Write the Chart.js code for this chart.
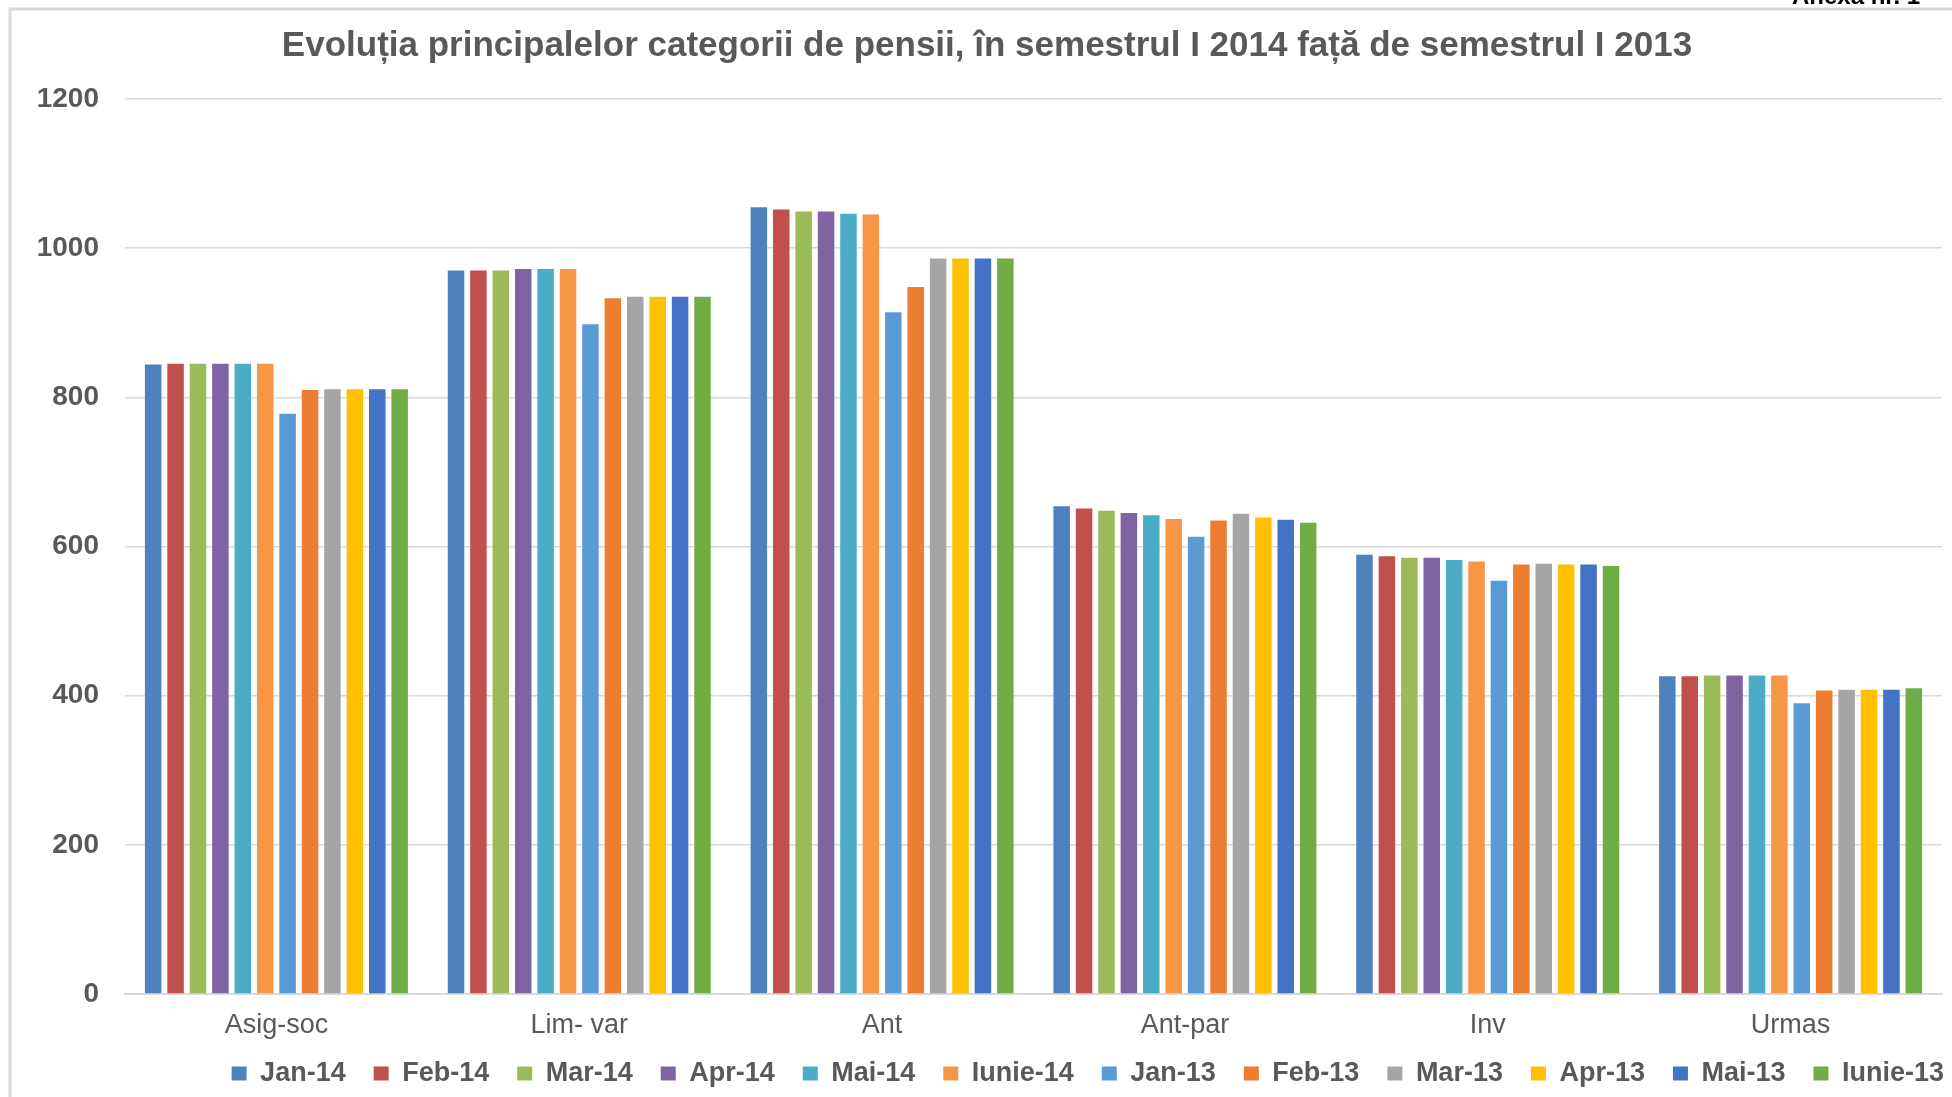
<!DOCTYPE html>
<html lang="ro">
<head>
<meta charset="utf-8">
<title>Evoluția principalelor categorii de pensii</title>
<script src="https://cdn.jsdelivr.net/npm/chart.js@4.4.1/dist/chart.umd.min.js"></script>
<style>
  html, body { margin: 0; padding: 0; background: #ffffff; }
  #wrap { position: relative; width: 1952px; height: 1097px; }
</style>
</head>
<body>
<div id="wrap"><canvas id="pensii"></canvas></div>
<script>
// categorii de pensii (axa X)
const categorii = ["Asig-soc", "Lim- var", "Ant", "Ant-par", "Inv", "Urmas"];

// valori medii, pe luni
const jan14 = [844, 970, 1055, 654, 589, 426];
const feb14 = [845, 970, 1052, 651, 587, 426];
const mar14 = [845, 970, 1049, 648, 585, 427];
const apr14 = [845, 972, 1049, 645, 585, 427];
const mai14 = [845, 972, 1046, 642, 582, 427];
const iun14 = [845, 972, 1045, 637, 580, 427];
const jan13 = [778, 898, 914, 613, 554, 390];
const feb13 = [810, 933, 948, 635, 576, 407];
const mar13 = [811, 935, 986, 644, 577, 408];
const apr13 = [811, 935, 986, 639, 576, 408];
const mai13 = [811, 935, 986, 636, 576, 408];
const iun13 = [811, 935, 986, 632, 574, 410];

const luni = ["Jan-14", "Feb-14", "Mar-14", "Apr-14", "Mai-14", "Iunie-14",
              "Jan-13", "Feb-13", "Mar-13", "Apr-13", "Mai-13", "Iunie-13"];
const serii = [jan14, feb14, mar14, apr14, mai14, iun14,
               jan13, feb13, mar13, apr13, mai13, iun13];
const culori = ["#4F81BD", "#C0504D", "#9BBB59", "#8064A2", "#4BACC6", "#F79646",
                "#5B9BD5", "#ED7D31", "#A5A5A5", "#FFC000", "#4472C4", "#70AD47"];

const yTicks = [0, 200, 400, 600, 800, 1000, 1200];

const GRI  = "#595959";
const FONT = "'Liberation Sans', Arial, sans-serif";

// rama gri din jurul graficului + textul taiat din colt
const rama = {
  id: "rama",
  beforeDraw(chart) {
    const ctx = chart.ctx;
    ctx.save();
    ctx.fillStyle = "#ffffff";
    ctx.fillRect(0, 0, chart.width, chart.height);
    ctx.strokeStyle = "#d9d9d9";
    ctx.lineWidth = 3;
    ctx.beginPath();
    ctx.moveTo(10, chart.height);
    ctx.lineTo(10, 9);
    ctx.lineTo(chart.width, 9);
    ctx.stroke();
    ctx.fillStyle = "#000000";
    ctx.font = "bold 24px " + FONT;
    ctx.textBaseline = "alphabetic";
    ctx.fillText("Anexa nr. 1", 1792, 4);
    ctx.restore();
  }
};

// muta legenda spre dreapta; lasa etichetele X sa nu fie taiate
const ajustare = {
  id: "ajustare",
  afterLayout(chart) {
    const pad = chart.legend.options.labels.padding;
    chart.legend.right = 1944 + pad;
    chart.titleBlock.left += 32;
    chart.scales.x.bottom = chart.height;
  }
};

new Chart(document.getElementById("pensii"), {
  type: "bar",
  data: {
    labels: categorii,
    datasets: serii.map((s, i) => ({
      label: luni[i],
      data: s,
      backgroundColor: culori[i],
      borderWidth: 0,
      categoryPercentage: 0.888,
      barPercentage: 0.737
    }))
  },
  plugins: [rama, ajustare],
  options: {
    responsive: true,
    maintainAspectRatio: false,
    animation: false,
    layout: { padding: { left: 0, right: 10, top: 0, bottom: 0 } },
    scales: {
      x: {
        grid: { display: false },
        border: { color: "#d9d9d9", width: 2 },
        ticks: { color: GRI, font: { family: FONT, size: 27 }, padding: 7 },
        afterFit(scale) { scale.height = 38; }
      },
      y: {
        min: 0,
        max: 1200,
        afterBuildTicks(scale) { scale.ticks = yTicks.map(v => ({ value: v })); },
        grid: { color: "#d9d9d9", lineWidth: 1.5, drawTicks: false },
        border: { display: false },
        ticks: {
          color: GRI,
          font: { family: FONT, size: 28, weight: "bold" },
          padding: 26,
          callback: v => String(v)
        },
        afterFit(scale) { scale.width = 125; }
      }
    },
    plugins: {
      title: {
        display: true,
        text: "Evoluția principalelor categorii de pensii, în semestrul I 2014 față de semestrul I 2013",
        color: GRI,
        font: { family: FONT, size: 35, weight: "bold" },
        padding: { top: 25, bottom: 32 }
      },
      legend: {
        position: "bottom",
        align: "end",
        labels: {
          color: GRI,
          font: { family: FONT, size: 27, weight: "bold" },
          boxWidth: 15,
          boxHeight: 14,
          padding: 28
        }
      },
      tooltip: { enabled: false }
    }
  }
});
</script>
</body>
</html>
